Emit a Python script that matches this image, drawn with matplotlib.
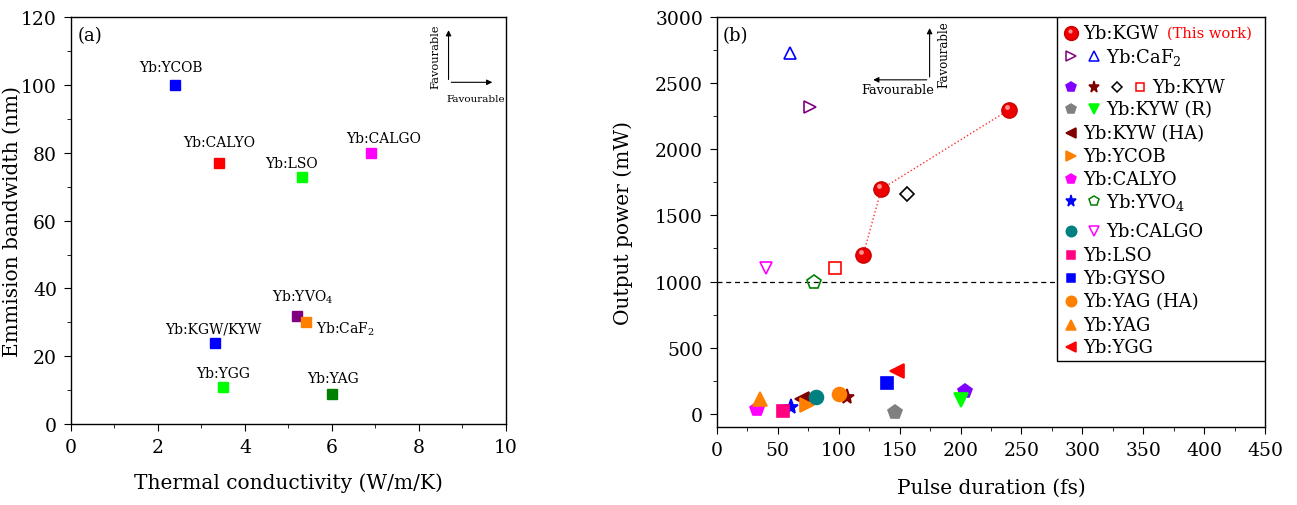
import matplotlib
matplotlib.use("Agg")
import matplotlib.pyplot as plt
import matplotlib.transforms as mtransforms
from matplotlib.patches import Rectangle
from matplotlib.ticker import MultipleLocator

plt.rcParams['font.family'] = ['DejaVu Serif']
plt.rcParams['mathtext.fontset'] = 'dejavuserif'

# ---- panel (a): thermal conductivity vs emission bandwidth ----
a_names = ['Yb:YCOB', 'Yb:CALYO', 'Yb:LSO', 'Yb:CALGO', 'Yb:YVO$_4$',
           'Yb:CaF$_2$', 'Yb:KGW/KYW', 'Yb:YGG', 'Yb:YAG']
a_conductivity = [2.4, 3.4, 5.3, 6.9, 5.2, 5.4, 3.3, 3.5, 6.0]
a_bandwidth = [100, 77, 73, 80, 32, 30, 24, 11, 9]
a_colors = ['#0000ff', '#ff0000', '#00ff00', '#ff00ff', '#800080',
            '#ff8000', '#0000ff', '#00ff00', '#008000']
# label offsets in points (dx, dy) and horizontal alignment
a_offsets = [(-3, 13), (0, 15), (-7, 10), (9, 11), (4, 14), (7, -4), (-1, 10), (0, 10), (1, 11)]
a_ha = ['center', 'center', 'center', 'center', 'center', 'left', 'center', 'center', 'center']

# ---- panel (b): pulse duration vs output power ----
kgw_tau = [120, 135, 240]
kgw_power = [1200, 1700, 2300]

b_tau = [76, 60, 204, 107, 156, 97, 146, 200, 70, 74, 33, 61, 80, 81, 40, 54, 140, 100, 35, 148]
b_power = [2320, 2730, 174, 129, 1659, 1100, 15, 106, 114, 68, 38, 53, 1000, 129, 1100, 23, 235, 152, 114, 326]
b_markers = ['>', '^', 'p', '*', 'D', 's', 'p', 'v', '<', '>', 'p', '*', 'p', 'o', 'v', 's', 's', 'o', '^', '<']
b_colors = ['#800080', '#0000ff', '#8000ff', '#800000', '#000000', '#ff0000', '#808080', '#00ff00',
            '#800000', '#ff8000', '#ff00ff', '#0000ff', '#008000', '#008080', '#ff00ff', '#ff0080',
            '#0000ff', '#ff8000', '#ff8000', '#ff0000']
b_filled = [False, False, True, True, False, False, True, True, True, True, True, True, False,
            True, False, True, True, True, True, True]
b_sizes = [9, 9, 10, 11, 7, 8, 10, 10, 10, 10, 10, 11, 10, 10, 9, 8, 8, 10, 10, 10]

# legend rows: indices into b_* lists, label
legend_rows = [([0, 1], 'Yb:CaF$_2$'),
               ([2, 3, 4, 5], 'Yb:KYW'),
               ([6, 7], 'Yb:KYW (R)'),
               ([8], 'Yb:KYW (HA)'),
               ([9], 'Yb:YCOB'),
               ([10], 'Yb:CALYO'),
               ([11, 12], 'Yb:YVO$_4$'),
               ([13, 14], 'Yb:CALGO'),
               ([15], 'Yb:LSO'),
               ([16], 'Yb:GYSO'),
               ([17], 'Yb:YAG (HA)'),
               ([18], 'Yb:YAG'),
               ([19], 'Yb:YGG')]
legend_y_px = [57, 88, 110, 134, 157, 180, 202, 232, 256, 279, 302, 326, 348]

fig = plt.figure(figsize=(12.97, 5.06), dpi=100)
ax1 = fig.add_axes([0.0547, 0.160, 0.3354, 0.804])
ax2 = fig.add_axes([0.5528, 0.1542, 0.4225, 0.810])

for ax in (ax1, ax2):
    ax.tick_params(which='both', direction='out', top=False, right=False, labelsize=13.5)
    ax.tick_params(which='major', length=5, pad=5)
    ax.tick_params(which='minor', length=3)
    for s in ax.spines.values():
        s.set_linewidth(1.0)

# panel (a)
for x, y, c in zip(a_conductivity, a_bandwidth, a_colors):
    ax1.plot(x, y, 's', color=c, ms=7, mec=c)
for name, x, y, off, ha in zip(a_names, a_conductivity, a_bandwidth, a_offsets, a_ha):
    ax1.annotate(name, (x, y), xytext=off, textcoords='offset points',
                 ha=ha, va='center', fontsize=10)
ax1.set_xlim(0, 10)
ax1.set_ylim(0, 120)
ax1.xaxis.set_major_locator(MultipleLocator(2))
ax1.xaxis.set_minor_locator(MultipleLocator(1))
ax1.yaxis.set_major_locator(MultipleLocator(20))
ax1.yaxis.set_minor_locator(MultipleLocator(10))
ax1.set_xlabel('Thermal conductivity (W/m/K)', fontsize=14.5)
ax1.set_ylabel('Emmision bandwidth (nm)', fontsize=14.5)
ax1.xaxis.set_label_coords(0.5, -0.118)
ax1.yaxis.set_label_coords(-0.113, 0.5)
ax1.text(0.016, 0.955, '(a)', transform=ax1.transAxes, fontsize=13, va='center')

# favourable arrows (a)
ax1.annotate('', xy=(0.868, 0.975), xytext=(0.868, 0.84), xycoords='axes fraction',
             arrowprops=dict(arrowstyle='-|>', color='black', lw=0.8, mutation_scale=8))
ax1.annotate('', xy=(0.975, 0.84), xytext=(0.868, 0.84), xycoords='axes fraction',
             arrowprops=dict(arrowstyle='-|>', color='black', lw=0.8, mutation_scale=8))
ax1.text(0.838, 0.905, 'Favourable', transform=ax1.transAxes, rotation=90,
         ha='center', va='center', fontsize=8.2)
ax1.text(0.93, 0.8, 'Favourable', transform=ax1.transAxes, ha='center', va='center', fontsize=7.5)

# panel (b)
ax2.axhline(1000, color='black', ls='--', lw=0.9, dashes=(4, 3), zorder=1)
ax2.plot(kgw_tau, kgw_power, ':', color='#ff3030', lw=1.0, zorder=2)
ax2.plot(kgw_tau, kgw_power, 'o', color='#ee0000', ms=11, mec='#cc0000', zorder=3)
hl = mtransforms.offset_copy(ax2.transData, fig=fig, x=-1.5, y=2, units='points')
ax2.plot(kgw_tau, kgw_power, 'o', color='#ff9090', ms=3.5, mec='none', transform=hl, zorder=4)

for x, y, m, c, f, s in zip(b_tau, b_power, b_markers, b_colors, b_filled, b_sizes):
    ax2.plot(x, y, m, ms=s, color=c, mec=c, mfc=c if f else 'none', mew=1.2, zorder=3)

ax2.set_xlim(0, 450)
ax2.set_ylim(-100, 3000)
ax2.xaxis.set_major_locator(MultipleLocator(50))
ax2.xaxis.set_minor_locator(MultipleLocator(25))
ax2.yaxis.set_major_locator(MultipleLocator(500))
ax2.yaxis.set_minor_locator(MultipleLocator(250))
ax2.set_xlabel('Pulse duration (fs)', fontsize=14.5)
ax2.set_ylabel('Output power (mW)', fontsize=14.5)
ax2.xaxis.set_label_coords(0.5, -0.124)
ax2.yaxis.set_label_coords(-0.153, 0.5)
ax2.text(0.01, 0.955, '(b)', transform=ax2.transAxes, fontsize=13, va='center')

# favourable arrows (b)
ax2.annotate('', xy=(0.388, 0.98), xytext=(0.388, 0.847), xycoords='axes fraction',
             arrowprops=dict(arrowstyle='-|>', color='black', lw=0.8, mutation_scale=8))
ax2.annotate('', xy=(0.28, 0.847), xytext=(0.388, 0.847), xycoords='axes fraction',
             arrowprops=dict(arrowstyle='-|>', color='black', lw=0.8, mutation_scale=8))
ax2.text(0.414, 0.91, 'Favourable', transform=ax2.transAxes, rotation=90,
         ha='center', va='center', fontsize=8.5)
ax2.text(0.33, 0.824, 'Favourable', transform=ax2.transAxes, ha='center', va='center', fontsize=9.3)

# hand-built legend box
def fx(px):
    return (px - 717) / 548.0

def fy(py):
    return (428 - py) / 410.0

ax2.add_patch(Rectangle((fx(1057), fy(362)), 1 - fx(1057), 1 - fy(362), transform=ax2.transAxes,
                        facecolor='white', edgecolor='black', lw=1.0, zorder=5))
ax2.plot(fx(1071), fy(34), 'o', color='#ee0000', ms=10, mec='#cc0000',
         transform=ax2.transAxes, zorder=6, clip_on=False)
ax2.plot(fx(1070), fy(32), 'o', color='#ff9090', ms=3, mec='none',
         transform=ax2.transAxes, zorder=7, clip_on=False)
ax2.text(fx(1083), fy(34), 'Yb:KGW', transform=ax2.transAxes, va='center', fontsize=13, zorder=6)
ax2.text(fx(1167), fy(34), '(This work)', transform=ax2.transAxes, va='center',
         fontsize=10.5, color='#ff0000', zorder=6)
marker_slots = [1071, 1094, 1117, 1140]
for (idx, label), ypx in zip(legend_rows, legend_y_px):
    for k, i in enumerate(idx):
        c = b_colors[i]
        ax2.plot(fx(marker_slots[k]), fy(ypx), b_markers[i], ms=b_sizes[i] * 0.75, color=c, mec=c,
                 mfc=c if b_filled[i] else 'none', mew=1.1, transform=ax2.transAxes,
                 zorder=6, clip_on=False)
    tx = marker_slots[len(idx) - 1] + 12
    ax2.text(fx(tx), fy(ypx), label, transform=ax2.transAxes, va='center', fontsize=13, zorder=6)

fig.savefig('out.png', dpi=100)
